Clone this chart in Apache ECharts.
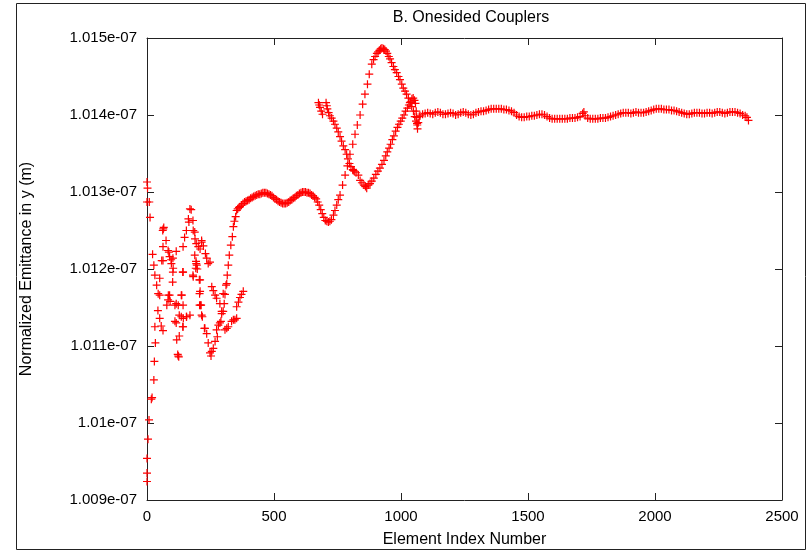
<!DOCTYPE html>
<html>
<head>
<meta charset="utf-8">
<title>B. Onesided Couplers</title>
<script src="https://cdn.jsdelivr.net/npm/echarts@6/dist/echarts.min.js"></script>
<style>
    html, body { margin: 0; padding: 0; background: #fff; }
    #chart { width: 812px; height: 553px; }
</style>
</head>
<body>
<div id="chart"></div>
<script>
// emittance values are in units of 1e-7 m, x is the element index
const xTicks = [0, 500, 1000, 1500, 2000, 2500];
const yTicks = [1.009, 1.010, 1.011, 1.012, 1.013, 1.014, 1.015];

// scattered points of the first ~380 elements
const earlyPts = [
    [0,1.00924],[0,1.00935],[0,1.00954],[4,1.00979],[8,1.01004],[17,1.01031],[20,1.01033],[27,1.01056],[29,1.01080],[33,1.01104],
    [0,1.01313],[2,1.01305],[0,1.01287],[9,1.01287],[12,1.01267],[22,1.01219],[27,1.01205],[31,1.01192],[38,1.01179],[44,1.01168],
    [43,1.01146],[50,1.01136],[56,1.01126],[63,1.01120],[31,1.01125],[50,1.01188],[50,1.01166],
    [64,1.01252],[66,1.01254],[62,1.01250],[75,1.01237],[63,1.01229],[83,1.01224],[86,1.01222],[89,1.01216],[95,1.01212],
    [102,1.01214],[115,1.01223],[103,1.01201],[96,1.01207],[58,1.01211],[63,1.01211],
    [142,1.01229],[148,1.01241],[155,1.01250],[163,1.01265],[169,1.01278],[174,1.01277],[165,1.01261],[181,1.01263],
    [188,1.01248],[194,1.01233],[202,1.01229],[188,1.01218],[194,1.01207],[182,1.01250],[189,1.01239],[215,1.01235],
    [209,1.01226],[196,1.01205],[193,1.01210],[198,1.01200],[192,1.01201],[181,1.01192],[182,1.01190],[206,1.01186],
    [141,1.01196],[142,1.01196],[101,1.01183],[102,1.01196],
    [84,1.01166],[89,1.01166],[91,1.01158],[83,1.01160],[78,1.01153],[137,1.01166],[135,1.01166],[110,1.01153],[115,1.01155],
    [123,1.01153],[142,1.01153],[127,1.01140],[110,1.01132],[115,1.01130],[143,1.01136],[156,1.01138],[155,1.01138],
    [169,1.01140],[135,1.01138],[141,1.01125],[142,1.01125],[117,1.01108],[127,1.01113],[121,1.01089],[123,1.01087],[125,1.01086],
    [207,1.01168],[207,1.01153],[209,1.01171],[211,1.01153],[215,1.01140],[209,1.01186],[213,1.01153],[218,1.01138],
    [215,1.01237],[222,1.01230],[230,1.01220],[241,1.01207],[235,1.01214],[248,1.01209],
    [226,1.01123],[228,1.01123],[235,1.01116],[241,1.01104],[248,1.01091],[252,1.01087],[255,1.01093],[261,1.01097],
    [268,1.01106],[274,1.01121],[277,1.01112],[281,1.01127],[287,1.01130],[291,1.01132],[294,1.01142],[300,1.01145],
    [304,1.01155],[307,1.01167],[311,1.01179],[314,1.01181],[316,1.01192],[320,1.01205],[324,1.01218],[330,1.01231],
    [336,1.01242],[340,1.01255],[344,1.01262],[349,1.01268],[353,1.01276],[357,1.01278],[362,1.01280],
    [255,1.01177],[261,1.01172],[268,1.01166],[274,1.01162],[287,1.01155],[294,1.01145],[300,1.01168],
    [307,1.01121],[314,1.01123],[320,1.01125],[333,1.01132],[340,1.01134],[346,1.01134],[353,1.01136],
    [353,1.01151],[360,1.01157],[366,1.01163],[372,1.01167],[379,1.01171]
];

// wave, dip near 710, climb to the peak near 925 and back down
const waveBranch = [
    [366,1.01281],[372,1.01283],[378,1.01285],[384,1.01287],[390,1.01288],[396,1.01289],[402,1.01290],[408,1.01292],
    [414,1.01293],[420,1.01294],[426,1.01295],[432,1.01296],[438,1.01297],[444,1.01297],[450,1.01298],[456,1.01299],
    [462,1.01299],[468,1.01299],[474,1.01298],[480,1.01297],[486,1.01296],[492,1.01295],[498,1.01293],[504,1.01291],
    [510,1.01290],[516,1.01288],[522,1.01287],[528,1.01286],[534,1.01285],[540,1.01285],[546,1.01285],[552,1.01286],
    [558,1.01287],[564,1.01289],[570,1.01290],[576,1.01292],[582,1.01293],[588,1.01295],[594,1.01296],[600,1.01298],
    [606,1.01299],[612,1.01300],[618,1.01300],[624,1.01300],[630,1.01299],[636,1.01299],[642,1.01298],[648,1.01296],
    [654,1.01295],[660,1.01293],[666,1.01291],[672,1.01287],[678,1.01283],[684,1.01277],[690,1.01272],[696,1.01267],
    [702,1.01263],[708,1.01262],[714,1.01261],[720,1.01262],[726,1.01264],[734,1.01270],[740,1.01276],[747,1.01283],
    [753,1.01290],[760,1.01296],[770,1.01309],[780,1.01322],[789,1.01334],[799,1.01349],[810,1.01362],[819,1.01375],
    [828,1.01387],[839,1.01400],[849,1.01414],[858,1.01427],[868,1.01440],[875,1.01453],[885,1.01466],[892,1.01472],
    [898,1.01476],[905,1.01480],[910,1.01482],[915,1.01484],[920,1.01486],[925,1.01487],[931,1.01486],[936,1.01485],
    [941,1.01483],[946,1.01480],[952,1.01476],[957,1.01473],[963,1.01468],[970,1.01463],[976,1.01459],[983,1.01455],
    [990,1.01450],[996,1.01446],[1003,1.01440],[1009,1.01435],[1016,1.01431],[1022,1.01427],[1029,1.01422],[1035,1.01416],
    [1042,1.01411],[1049,1.01405],[1054,1.01398],[1059,1.01392],[1064,1.01387]
];

// the second strand of the loop, 675 -> 1057
const loopBranch = [
    [675,1.01416],[678,1.01413],[681,1.01410],[686,1.01405],[691,1.01401],[705,1.01416],[708,1.01412],[710,1.01408],
    [715,1.01403],[720,1.01399],[727,1.01396],[734,1.01392],[740,1.01388],[747,1.01383],[753,1.01378],[760,1.01372],
    [766,1.01366],[773,1.01360],[780,1.01355],[786,1.01349],[791,1.01343],[797,1.01337],[803,1.01333],[810,1.01329],
    [812,1.01328],[816,1.01327],[823,1.01325],[832,1.01322],[839,1.01315],[846,1.01312],[854,1.01309],[860,1.01307],
    [865,1.01305],[871,1.01309],[878,1.01311],[885,1.01314],[893,1.01318],[901,1.01323],[909,1.01327],[917,1.01331],
    [925,1.01336],[933,1.01341],[940,1.01347],[946,1.01352],[953,1.01357],[959,1.01362],[966,1.01368],[972,1.01373],
    [979,1.01379],[986,1.01384],[992,1.01388],[999,1.01392],[1005,1.01396],[1012,1.01400],[1018,1.01405],[1025,1.01409],
    [1031,1.01413],[1038,1.01417],[1043,1.01421],[1048,1.01422],[1053,1.01419],[1057,1.01415],
    [1060,1.01405],[1062,1.01397],[1063,1.01389],[1065,1.01382]
];

// flat part after element ~1065
const flatBand = [
    [1068,1.01390],[1072,1.01398],[1075,1.01399],[1085,1.01401],[1095,1.01402],[1105,1.01403],[1115,1.01402],[1125,1.01401],
    [1135,1.01403],[1145,1.01404],[1155,1.01403],[1165,1.01401],[1175,1.01401],[1185,1.01402],[1195,1.01403],[1205,1.01402],
    [1215,1.01400],[1225,1.01401],[1235,1.01403],[1245,1.01404],[1255,1.01403],[1265,1.01401],[1275,1.01400],[1285,1.01401],
    [1295,1.01403],[1305,1.01404],[1315,1.01405],[1325,1.01405],[1335,1.01406],[1345,1.01407],[1355,1.01408],[1365,1.01408],
    [1375,1.01408],[1385,1.01408],[1395,1.01408],[1405,1.01407],[1415,1.01407],[1425,1.01406],[1435,1.01405],[1445,1.01403],
    [1455,1.01400],[1465,1.01398],[1475,1.01397],[1485,1.01397],[1495,1.01398],[1505,1.01398],[1515,1.01399],[1525,1.01399],
    [1535,1.01400],[1545,1.01401],[1555,1.01401],[1565,1.01400],[1575,1.01398],[1585,1.01396],[1595,1.01395],[1605,1.01395],
    [1615,1.01395],[1625,1.01395],[1635,1.01395],[1645,1.01395],[1655,1.01395],[1665,1.01396],[1675,1.01396],[1685,1.01396],
    [1695,1.01397],[1705,1.01398],[1715,1.01402],[1720,1.01404],[1725,1.01399],[1735,1.01396],[1745,1.01395],[1755,1.01395],
    [1765,1.01395],[1775,1.01395],[1785,1.01396],[1795,1.01396],[1805,1.01396],[1815,1.01397],[1825,1.01398],[1835,1.01399],
    [1845,1.01400],[1855,1.01401],[1865,1.01402],[1875,1.01403],[1885,1.01403],[1895,1.01403],[1905,1.01402],[1915,1.01403],
    [1925,1.01404],[1935,1.01403],[1945,1.01403],[1955,1.01403],[1965,1.01404],[1975,1.01405],[1985,1.01406],[1995,1.01407],
    [2005,1.01408],[2015,1.01408],[2025,1.01408],[2035,1.01407],[2045,1.01407],[2055,1.01407],[2065,1.01406],[2075,1.01406],
    [2085,1.01405],[2095,1.01404],[2105,1.01403],[2115,1.01402],[2125,1.01401],[2135,1.01401],[2145,1.01402],[2155,1.01403],
    [2165,1.01403],[2175,1.01403],[2185,1.01402],[2195,1.01402],[2205,1.01403],[2215,1.01403],[2225,1.01402],[2235,1.01403],
    [2245,1.01404],[2255,1.01404],[2265,1.01403],[2275,1.01402],[2285,1.01403],[2295,1.01404],[2305,1.01404],[2315,1.01404],
    [2325,1.01403],[2335,1.01402],[2345,1.01400],[2355,1.01399],[2362,1.01397],[2368,1.01393]
];

const FONT = "'Liberation Sans', Arial, sans-serif";
const plus = 'path://M0,5L10,5M5,0L5,10';

const chart = echarts.init(document.getElementById('chart'), null, { renderer: 'canvas' });

function fmtY(v) {
    return parseFloat(v.toFixed(4)) + 'e-07';
}

function axisCommon(showLabel) {
    return {
        axisLine: { show: true, onZero: false, lineStyle: { color: '#222', width: 1 } },
        axisTick: { show: true, inside: true, length: 7, lineStyle: { color: '#222', width: 1 } },
        splitLine: { show: false },
        axisLabel: { show: showLabel, color: '#000', fontSize: 15, fontFamily: FONT }
    };
}

function scatter(data) {
    return {
        type: 'scatter',
        data: data,
        symbol: plus,
        symbolSize: 8,
        itemStyle: { color: '#ff0000', borderColor: '#ff0000', borderWidth: 1.2, opacity: 1 },
        emphasis: { disabled: true },
        silent: true
    };
}

const option = {
    animation: false,
    backgroundColor: '#fff',
    title: {
        text: 'B. Onesided Couplers',
        left: 466,
        top: 5,
        textAlign: 'center',
        textStyle: { color: '#000', fontSize: 16, fontWeight: 'normal', fontFamily: FONT }
    },
    graphic: [{
        type: 'rect',
        shape: { x: 16.5, y: 3.5, width: 789, height: 546 },
        style: { fill: 'none', stroke: '#222', lineWidth: 1 },
        silent: true
    }],
    grid: { left: 147, right: 30, top: 38, bottom: 50, containLabel: false },
    xAxis: [
        Object.assign(axisCommon(true), {
            type: 'value', position: 'bottom',
            min: xTicks[0], max: xTicks[xTicks.length - 1], interval: xTicks[1] - xTicks[0],
            name: 'Element Index Number', nameLocation: 'middle', nameGap: 32,
            nameTextStyle: { color: '#000', fontSize: 16, fontFamily: FONT }
        }),
        Object.assign(axisCommon(false), {
            type: 'value', position: 'top',
            min: xTicks[0], max: xTicks[xTicks.length - 1], interval: xTicks[1] - xTicks[0]
        })
    ],
    yAxis: [
        Object.assign(axisCommon(true), {
            type: 'value', position: 'left',
            min: yTicks[0], max: yTicks[yTicks.length - 1], interval: 0.001,
            name: 'Normalized Emittance in y (m)', nameLocation: 'middle', nameGap: 112, nameRotate: 90,
            nameTextStyle: { color: '#000', fontSize: 16, fontFamily: FONT }
        }),
        Object.assign(axisCommon(false), {
            type: 'value', position: 'right',
            min: yTicks[0], max: yTicks[yTicks.length - 1], interval: 0.001
        })
    ],
    series: [
        scatter(earlyPts),
        scatter(waveBranch),
        scatter(loopBranch),
        scatter(flatBand)
    ]
};
option.yAxis[0].axisLabel.formatter = fmtY;
option.yAxis[0].axisLabel.margin = 10;
option.xAxis[0].axisLabel.formatter = function (v) { return String(v); };
option.xAxis[0].axisLabel.margin = 9;

chart.setOption(option);
</script>
</body>
</html>
